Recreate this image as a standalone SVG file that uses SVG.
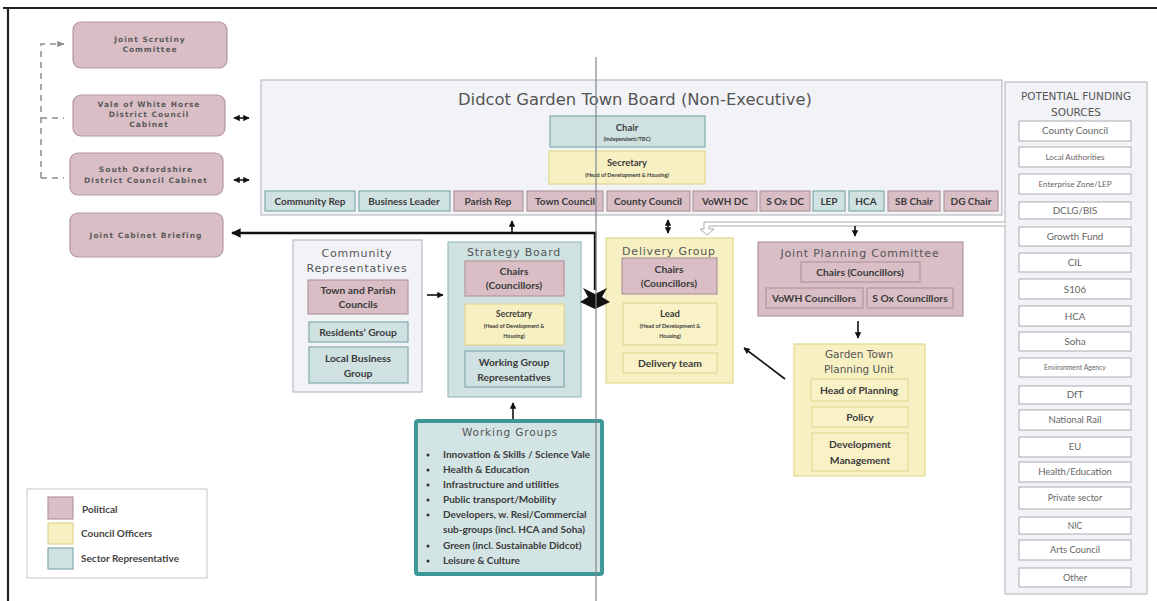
<svg xmlns="http://www.w3.org/2000/svg" width="1157" height="601" viewBox="0 0 1157 601">
<defs>
<style>
.pol{fill:#d9bec5;stroke:#b3979e;stroke-width:1.2}
.off{fill:#f7f0c2;stroke:#e2d690;stroke-width:1.2}
.sec{fill:#cfe1e1;stroke:#82aaad;stroke-width:1.2}
.cont{fill:#f2f3f6;stroke:#b9bcc4;stroke-width:1.2}
.fund{fill:#ffffff;stroke:#a9abb2;stroke-width:1}
.t{font-family:Lato,"Open Sans","Liberation Sans",sans-serif;fill:#3b3b3b;text-anchor:middle;font-weight:bold}
.f{font-family:Lato,"Open Sans","Liberation Sans",sans-serif;fill:#666;text-anchor:middle}
.g{font-family:"DejaVu Sans","Liberation Sans",sans-serif;fill:#555;text-anchor:middle}
.gb{font-family:"DejaVu Sans","Liberation Sans",sans-serif;fill:#5a5a5a;text-anchor:middle;font-weight:bold;font-size:7.5px;letter-spacing:1px}
.ln{stroke:#111;stroke-width:1.6;fill:none}
</style>
<marker id="ah" viewBox="0 0 10 10" refX="9" refY="5" markerWidth="4" markerHeight="4" orient="auto-start-reverse"><path d="M0,0 L10,5 L0,10 Z" fill="#111"/></marker>
<marker id="ahg" viewBox="0 0 10 10" refX="9" refY="5" markerWidth="5" markerHeight="5" orient="auto"><path d="M0,1 L10,5 L0,9 Z" fill="#8a8a8a"/></marker>
</defs>
<rect width="1157" height="601" fill="#ffffff"/>
<!-- outer frame -->
<path d="M3,8 H1157 M8,8 V601" stroke="#222" stroke-width="2.2" fill="none"/>

<!-- left political boxes -->
<g id="joint-scrutiny"><rect class="pol" x="73" y="22" width="154" height="46" rx="8"/><text class="gb" x="150" y="42">Joint Scrutiny</text><text class="gb" x="150" y="52">Committee</text></g>
<g id="vowh-cabinet"><rect class="pol" x="73" y="95" width="152" height="41" rx="8"/><text class="gb" x="149" y="107">Vale of White Horse</text><text class="gb" x="149" y="117">District Council</text><text class="gb" x="149" y="127">Cabinet</text></g>
<g id="sodc-cabinet"><rect class="pol" x="70" y="153" width="153" height="42" rx="8"/><text class="gb" x="146" y="172">South Oxfordshire</text><text class="gb" x="146" y="183">District Council Cabinet</text></g>
<g id="joint-cabinet-briefing"><rect class="pol" x="70" y="213" width="153" height="44" rx="8"/><text class="gb" x="146" y="238">Joint Cabinet Briefing</text></g>

<!-- board -->
<g id="board">
<rect class="cont" x="261" y="80" width="741" height="135"/>
<text class="g" x="635" y="105" font-size="16" textLength="354" lengthAdjust="spacingAndGlyphs">Didcot Garden Town Board (Non-Executive)</text>
<rect class="sec" x="550" y="116" width="155" height="31"/>
<text class="t" x="627" y="131" font-size="9.5">Chair</text>
<text class="t" x="627" y="141" font-size="5.5">(Independent/TBC)</text>
<rect class="off" x="549" y="151" width="156" height="33"/>
<text class="t" x="627" y="166" font-size="9.5">Secretary</text>
<text class="t" x="627" y="177" font-size="5.5">(Head of Development &amp; Housing)</text>
<rect class="sec" x="265" y="191" width="90" height="20"/><text class="t" x="310" y="205" font-size="10">Community Rep</text>
<rect class="sec" x="359" y="191" width="91" height="20"/><text class="t" x="404" y="205" font-size="10">Business Leader</text>
<rect class="pol" x="454" y="191" width="69" height="20"/><text class="t" x="488" y="205" font-size="10">Parish Rep</text>
<rect class="pol" x="527" y="191" width="76" height="20"/><text class="t" x="565" y="205" font-size="10">Town Council</text>
<rect class="pol" x="607" y="191" width="83" height="20"/><text class="t" x="648" y="205" font-size="10">County Council</text>
<rect class="pol" x="693" y="191" width="64" height="20"/><text class="t" x="725" y="205" font-size="10">VoWH DC</text>
<rect class="pol" x="760" y="191" width="50" height="20"/><text class="t" x="785" y="205" font-size="10">S Ox DC</text>
<rect class="sec" x="813" y="191" width="32" height="20"/><text class="t" x="829" y="205" font-size="10">LEP</text>
<rect class="sec" x="849" y="191" width="35" height="20"/><text class="t" x="866" y="205" font-size="10">HCA</text>
<rect class="pol" x="888" y="191" width="52" height="20"/><text class="t" x="914" y="205" font-size="10">SB Chair</text>
<rect class="pol" x="944" y="191" width="54" height="20"/><text class="t" x="971" y="205" font-size="10">DG Chair</text>
</g>

<!-- community representatives -->
<g id="community-reps">
<rect class="cont" x="293" y="240" width="129" height="152"/>
<text class="g" x="357" y="257" font-size="11" letter-spacing="0.8">Community</text>
<text class="g" x="357" y="272" font-size="11" letter-spacing="0.8">Representatives</text>
<rect class="pol" x="308" y="280" width="100" height="34"/>
<text class="t" x="358" y="294" font-size="10.3">Town and Parish</text>
<text class="t" x="358" y="308" font-size="10.3">Councils</text>
<rect class="sec" x="309" y="322" width="99" height="20"/>
<text class="t" x="358" y="336" font-size="10.3">Residents’ Group</text>
<rect class="sec" x="309" y="347" width="99" height="36"/>
<text class="t" x="358" y="362" font-size="10.3">Local Business</text>
<text class="t" x="358" y="377" font-size="10.3">Group</text>
</g>

<!-- strategy board -->
<g id="strategy-board">
<rect x="448" y="242" width="133" height="155" fill="#cfe1e1" stroke="#9cbcbf" stroke-width="1.2"/>
<text class="g" x="514" y="256" font-size="11" letter-spacing="0.8">Strategy Board</text>
<rect class="pol" x="465" y="261" width="99" height="35"/>
<text class="t" x="514" y="275" font-size="10.3">Chairs</text>
<text class="t" x="514" y="289" font-size="10.3">(Councillors)</text>
<rect class="off" x="465" y="304" width="99" height="41"/>
<text class="t" x="514" y="317" font-size="8.5">Secretary</text>
<text class="t" x="514" y="328" font-size="5.5">(Head of Development &amp;</text>
<text class="t" x="514" y="338" font-size="5.5">Housing)</text>
<rect class="sec" x="465" y="351" width="99" height="36"/>
<text class="t" x="514" y="366" font-size="10.3">Working Group</text>
<text class="t" x="514" y="381" font-size="10.3">Representatives</text>
</g>

<!-- delivery group -->
<g id="delivery-group">
<rect x="606" y="238" width="127" height="145" fill="#f7f0c2" stroke="#e3d78c" stroke-width="1.2"/>
<text class="g" x="669" y="255" font-size="11" letter-spacing="0.8">Delivery Group</text>
<rect class="pol" x="622" y="258" width="95" height="36"/>
<text class="t" x="669" y="273" font-size="10.3">Chairs</text>
<text class="t" x="669" y="287" font-size="10.3">(Councillors)</text>
<rect x="623" y="303" width="94" height="42" fill="#f8f2c6" stroke="#e0d48c" stroke-width="1"/>
<text class="t" x="670" y="317" font-size="9.5">Lead</text>
<text class="t" x="670" y="328" font-size="5.5">(Head of Development &amp;</text>
<text class="t" x="670" y="338" font-size="5.5">Housing)</text>
<rect x="623" y="353" width="94" height="20" fill="#f8f2c6" stroke="#e0d48c" stroke-width="1"/>
<text class="t" x="670" y="367" font-size="10.3">Delivery team</text>
</g>

<!-- joint planning committee -->
<g id="joint-planning-committee">
<rect class="pol" x="758" y="242" width="205" height="74"/>
<text class="g" x="860" y="257" font-size="11" letter-spacing="0.8">Joint Planning Committee</text>
<rect class="pol" x="801" y="262" width="119" height="20"/>
<text class="t" x="860" y="276" font-size="10.3">Chairs (Councillors)</text>
<rect class="pol" x="766" y="288" width="97" height="20"/>
<text class="t" x="814" y="302" font-size="10.3">VoWH Councillors</text>
<rect class="pol" x="867" y="288" width="86" height="20"/>
<text class="t" x="910" y="302" font-size="10.3">S Ox Councillors</text>
</g>

<!-- garden town planning unit -->
<g id="planning-unit">
<rect x="794" y="344" width="131" height="132" fill="#f7f0c2" stroke="#e3d78c" stroke-width="1.2"/>
<text class="g" x="859" y="358" font-size="10.5">Garden Town</text>
<text class="g" x="859" y="373" font-size="10.5">Planning Unit</text>
<rect x="811" y="379" width="97" height="22" fill="#f8f2c6" stroke="#e0d48c" stroke-width="1"/>
<text class="t" x="859" y="394" font-size="10.3">Head of Planning</text>
<rect x="812" y="407" width="96" height="20" fill="#f8f2c6" stroke="#e0d48c" stroke-width="1"/>
<text class="t" x="860" y="421" font-size="10.3">Policy</text>
<rect x="812" y="433" width="96" height="38" fill="#f8f2c6" stroke="#e0d48c" stroke-width="1"/>
<text class="t" x="860" y="448" font-size="10.3">Development</text>
<text class="t" x="860" y="464" font-size="10.3">Management</text>
</g>

<!-- working groups -->
<g id="working-groups">
<rect x="416" y="421" width="186" height="153" fill="#d3e4e5" stroke="#3e9898" stroke-width="4" rx="2"/>
<text class="g" x="510" y="436" font-size="10.5" letter-spacing="0.9">Working Groups</text>
<g font-family="Lato,'Open Sans','Liberation Sans',sans-serif" font-size="10" fill="#3b3b3b" font-weight="bold">
<text x="443" y="458">Innovation &amp; Skills / Science Vale</text>
<text x="443" y="473">Health &amp; Education</text>
<text x="443" y="488">Infrastructure and utilities</text>
<text x="443" y="503">Public transport/Mobility</text>
<text x="443" y="518">Developers, w. Resi/Commercial</text>
<text x="443" y="533">sub-groups (incl. HCA and Soha)</text>
<text x="443" y="549">Green (incl. Sustainable Didcot)</text>
<text x="443" y="564">Leisure &amp; Culture</text>
</g>
<g fill="#333">
<circle cx="428" cy="455" r="1.5"/><circle cx="428" cy="470" r="1.5"/><circle cx="428" cy="485" r="1.5"/><circle cx="428" cy="500" r="1.5"/><circle cx="428" cy="515" r="1.5"/><circle cx="428" cy="546" r="1.5"/><circle cx="428" cy="561" r="1.5"/>
</g>
</g>

<!-- funding sources -->
<g id="funding-sources">
<rect class="cont" x="1005" y="82" width="142" height="512"/>
<text class="g" x="1076" y="100" font-size="10.5" fill="#444" font-family="Lato,'Liberation Sans',sans-serif">POTENTIAL FUNDING</text>
<text class="g" x="1076" y="116" font-size="10.5" fill="#444" font-family="Lato,'Liberation Sans',sans-serif">SOURCES</text>
<rect class="fund" x="1019" y="121" width="112" height="20"/><text class="f" x="1075" y="134" font-size="9.8">County Council</text>
<rect class="fund" x="1019" y="147" width="112" height="20"/><text class="f" x="1075" y="160" font-size="8">Local Authorities</text>
<rect class="fund" x="1019" y="174" width="112" height="20"/><text class="f" x="1075" y="187" font-size="8">Enterprise Zone/LEP</text>
<rect class="fund" x="1019" y="202" width="112" height="17"/><text class="f" x="1075" y="214" font-size="9.8">DCLG/BIS</text>
<rect class="fund" x="1019" y="227" width="112" height="19"/><text class="f" x="1075" y="240" font-size="9.8">Growth Fund</text>
<rect class="fund" x="1019" y="253" width="112" height="19"/><text class="f" x="1075" y="266" font-size="9.8">CIL</text>
<rect class="fund" x="1019" y="279" width="112" height="20"/><text class="f" x="1075" y="293" font-size="9.8">S106</text>
<rect class="fund" x="1019" y="306" width="112" height="20"/><text class="f" x="1075" y="320" font-size="9.8">HCA</text>
<rect class="fund" x="1019" y="332" width="112" height="19"/><text class="f" x="1075" y="345" font-size="9.8">Soha</text>
<rect class="fund" x="1019" y="358" width="112" height="19"/><text class="f" x="1075" y="370" font-size="6.8">Environment Agency</text>
<rect class="fund" x="1019" y="386" width="112" height="18"/><text class="f" x="1075" y="398" font-size="9.8">DfT</text>
<rect class="fund" x="1019" y="410" width="112" height="20"/><text class="f" x="1075" y="423" font-size="9.5">National Rail</text>
<rect class="fund" x="1019" y="437" width="112" height="20"/><text class="f" x="1075" y="450" font-size="9.5">EU</text>
<rect class="fund" x="1019" y="462" width="112" height="20"/><text class="f" x="1075" y="475" font-size="9.5">Health/Education</text>
<rect class="fund" x="1019" y="487" width="112" height="22"/><text class="f" x="1075" y="501" font-size="9">Private sector</text>
<rect class="fund" x="1019" y="517" width="112" height="17"/><text class="f" x="1075" y="529" font-size="8.5">NIC</text>
<rect class="fund" x="1019" y="540" width="112" height="20"/><text class="f" x="1075" y="553" font-size="9.3">Arts Council</text>
<rect class="fund" x="1019" y="568" width="112" height="19"/><text class="f" x="1075" y="581" font-size="9.3">Other</text>
</g>

<!-- legend -->
<g id="legend">
<rect x="27" y="489" width="180" height="89" fill="#fff" stroke="#c4c6cc" stroke-width="1"/>
<rect class="pol" x="48" y="497" width="25" height="22"/>
<rect class="off" x="48" y="523" width="25" height="21"/>
<rect class="sec" x="48" y="548" width="25" height="21"/>
<g font-family="Lato,'Open Sans','Liberation Sans',sans-serif" font-size="10" fill="#444" font-weight="bold">
<text x="82" y="513">Political</text>
<text x="81" y="537">Council Officers</text>
<text x="81" y="562">Sector Representative</text>
</g>
</g>

<!-- connectors -->
<g id="connectors">
<path d="M41,178 V44 H64" stroke="#8a8a8a" stroke-width="1.5" stroke-dasharray="6,5" fill="none" marker-end="url(#ahg)"/>
<path d="M41,118 H64 M41,178 H64" stroke="#8a8a8a" stroke-width="1.5" stroke-dasharray="6,5" fill="none"/>
<path class="ln" d="M234,118 H249" marker-start="url(#ah)" marker-end="url(#ah)"/>
<path class="ln" d="M234,180 H249" marker-start="url(#ah)" marker-end="url(#ah)"/>
<path d="M595,290 V233 H232" stroke="#111" stroke-width="2.4" fill="none" marker-end="url(#ah)"/>
<polygon points="583,288 595,294 607,288 602,297 610,302 595,309 580,302 588,297" fill="#111"/>
<path class="ln" d="M512,233 V221" marker-end="url(#ah)"/>
<path class="ln" d="M513,419 V403" marker-end="url(#ah)"/>
<path class="ln" d="M427,295 H443" marker-end="url(#ah)"/>
<path class="ln" d="M668,220 V233" marker-start="url(#ah)" marker-end="url(#ah)"/>
<path d="M1005,222 H704 V229 H700 L707,235 L714,229 H709 V226 H1005" fill="#fff" stroke="#aaaaaa" stroke-width="1"/>
<path class="ln" d="M855,226 V236" marker-end="url(#ah)"/>
<path class="ln" d="M858,321 V338" marker-end="url(#ah)"/>
<path class="ln" d="M785,379 L744,348" marker-end="url(#ah)"/>
</g>
<!-- thin vertical line -->
<line x1="596" y1="57" x2="596" y2="601" stroke="#80868f" stroke-width="1.2"/>
</svg>
